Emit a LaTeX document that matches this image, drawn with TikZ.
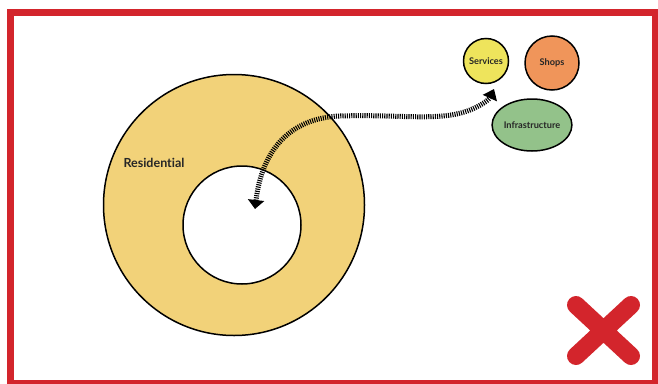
\documentclass[tikz,border=0pt]{standalone}
\usepackage{fontspec}
\setmainfont{Lato}[Ligatures={NoCommon}]
\usetikzlibrary{arrows.meta,shapes.geometric}
\definecolor{framered}{HTML}{D3252C}
\definecolor{resyellow}{HTML}{F2D279}
\definecolor{servyellow}{HTML}{EEE45C}
\definecolor{shoporange}{HTML}{F0955A}
\definecolor{infragreen}{HTML}{93C28A}
\tikzset{
  zone/.style={draw=black, line width=1.5pt, inner sep=0pt},
  tag/.style={font=\bfseries\fontsize{9.2}{10}\selectfont, text=black!85},
  flow/.style={line width=5pt, dash pattern=on 1.1pt off 1.1pt,
    {Triangle[width=16pt,length=9pt]}-{Triangle[width=15pt,length=10pt]}}
}
\begin{document}
\begin{tikzpicture}[x=1pt,y=-1pt]
\useasboundingbox (0,0) rectangle (658,383);
\fill[white] (0,0) rectangle (658,383);
% frame
\draw[framered, line width=7pt] (10.5,12.5) rectangle (655.5,383);
% residential ring
\node[zone, circle, fill=resyellow, minimum size=261pt] (outer) at (234,205) {};
\node[zone, circle, fill=white, minimum size=118pt] (inner) at (242,225) {};
\node[font=\bfseries\fontsize{12.5}{14}\selectfont, text=black!85] (reslbl) at (154,163) {Residential};
% destinations
\node[zone, circle, fill=servyellow, minimum size=45pt, tag] (serv) at (486,61) {Services};
\node[zone, circle, fill=shoporange, minimum width=54pt, minimum height=51pt, tag] (shops) at (552,63) {Shops};
\node[zone, ellipse, fill=infragreen, minimum width=73pt, minimum height=52pt, tag] (infra) at (532,125) {Infrastructure};
% commuting flow
\coordinate (home) at (255,209);
\coordinate (work) at (494,89);
\draw[flow] (home) .. controls (262,150) and (290,118) .. (340,116)
  .. controls (400,114) and (440,122) .. (470,110)
  .. controls (480,106) and (489,100) .. (work);
% cross mark
\coordinate (xa) at (576,305);
\coordinate (xb) at (631,356);
\coordinate (xc) at (631,305);
\coordinate (xd) at (576,356);
\draw[framered, line width=18pt, line cap=round] (xa) -- (xb) (xc) -- (xd);
\end{tikzpicture}
\end{document}
